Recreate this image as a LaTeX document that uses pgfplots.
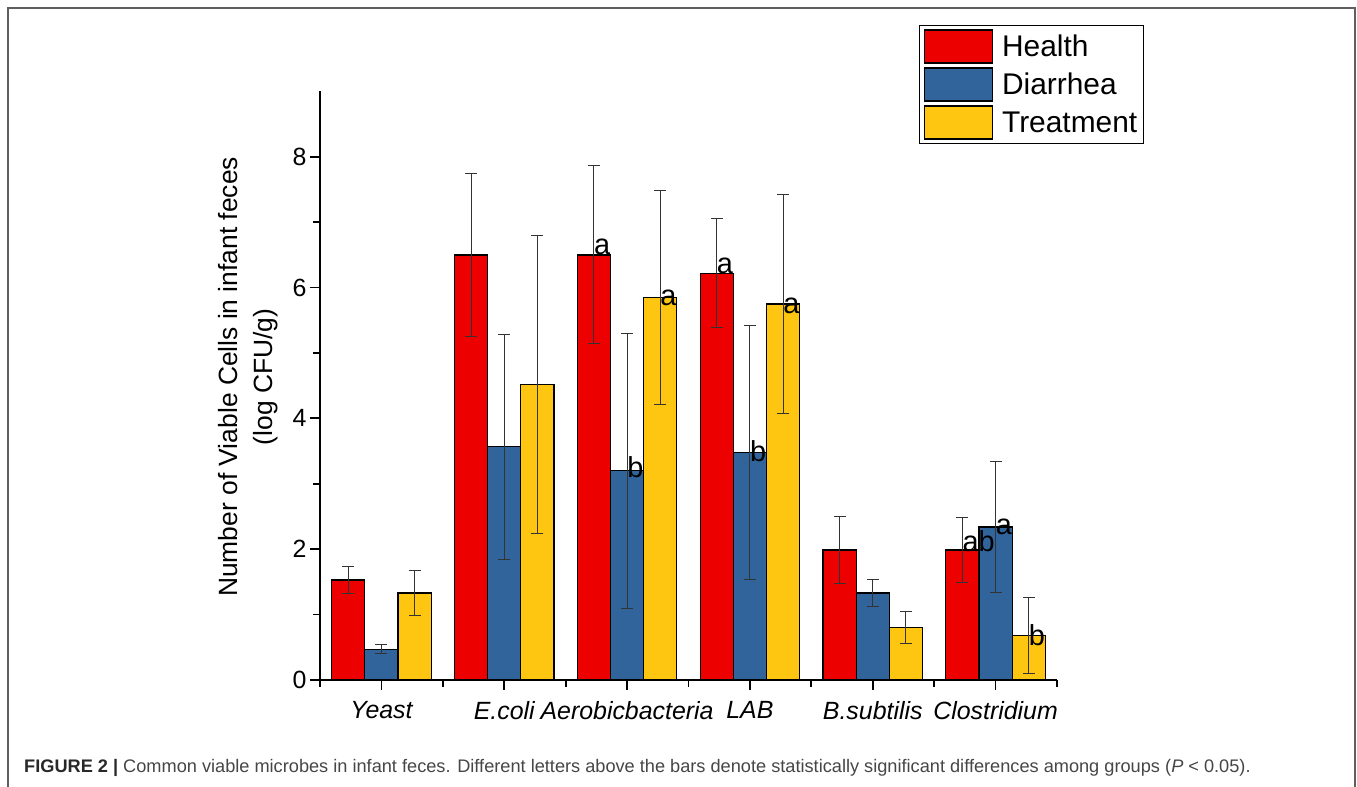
\documentclass[border=0pt]{standalone}
\usepackage{pgfplots}
\pgfplotsset{compat=1.18}
\usepackage{pgfplotstable}
\usepackage{fontspec}
\setmainfont{Liberation Sans}
\definecolor{cH}{RGB}{236,0,0}
\definecolor{cD}{RGB}{50,100,156}
\definecolor{cT}{RGB}{254,198,16}
\definecolor{framec}{RGB}{95,95,95}
\definecolor{captxt}{RGB}{70,70,70}
\definecolor{capbold}{RGB}{40,40,40}

\pgfplotstableread{
x y e
0 1.53 0.20
1 6.50 1.25
2 6.50 1.36
3 6.22 0.83
4 1.99 0.51
5 1.99 0.50
}\health
\pgfplotstableread{
x y e
0 0.47 0.07
1 3.57 1.72
2 3.20 2.10
3 3.48 1.94
4 1.33 0.20
5 2.34 1.00
}\diarrhea
\pgfplotstableread{
x y e
0 1.33 0.34
1 4.52 2.28
2 5.85 1.63
3 5.75 1.67
4 0.80 0.24
5 0.68 0.58
}\treatment

\pgfplotsset{
  mylegend/.style={legend image code/.code={%
    \path[draw=none, fill=none] (0bp,-19bp) rectangle (76bp,19bp);
    \draw[##1, draw=black, line width=1.2bp] (0bp,-16.5bp) rectangle (68bp,16.5bp);}},
  myerr/.style={error bars/.cd, y dir=both, y explicit,
    error bar style={line width=1bp, black!80},
    error mark=-,
    error mark options={rotate=90, line width=1bp, black!80, mark size=6bp}},
}

\begin{document}
\begin{tikzpicture}
\useasboundingbox (0bp,0bp) rectangle (1357bp,787bp);
\draw[framec, line width=1.5bp] (8bp,0bp) -- (8bp,779bp) -- (1355bp,779bp) -- (1355bp,0bp);
\begin{axis}[
  at={(320bp,107bp)}, anchor=south west,
  scale only axis, width=737bp, height=588.6bp,
  xmin=-0.5, xmax=5.5, ymin=0, ymax=9,
  clip=false,
  axis x line*=bottom, axis y line*=left,
  axis line style={line width=1.8bp, black},
  every tick/.style={black, line width=1.8bp},
  tick align=outside, major tick length=10bp, minor tick length=7bp,
  xtick={0,...,5},
  xticklabels={Yeast,E.coli,Aerobicbacteria,LAB,B.subtilis,Clostridium},
  minor xtick={-0.5,0.5,1.5,2.5,3.5,4.5,5.5},
  ytick={0,2,4,6,8}, minor ytick={1,3,5,7},
  /pgf/number format/assume math mode=true,
  xticklabel style={font=\itshape\fontsize{25}{30}\selectfont, yshift=-8bp},
  yticklabel style={font=\fontsize{25}{30}\selectfont},
  ylabel={Number of Viable Cells in infant feces\\(log CFU/g)},
  ylabel style={align=center, font=\fontsize{26.5}{35}\selectfont, at={(axis description cs:-0.098,0.515)}, anchor=center},
  ybar, bar width=0.27,
  legend style={at={(axis description cs:0.8128,1.1128)}, anchor=north west,
    draw=black, line width=1bp, font=\fontsize{30}{36}\selectfont,
    inner xsep=4bp, inner ysep=2bp, row sep=0bp,
    cells={anchor=west, inner ysep=0bp, inner xsep=1bp}},
]
\addplot[fill=cH, draw=black, line width=1.3bp, bar shift=-0.27, mylegend, myerr]
  table[x=x, y=y, y error=e]{\health};
\addlegendentry{Health}
\addplot[fill=cD, draw=black, line width=1.3bp, bar shift=0, mylegend, myerr]
  table[x=x, y=y, y error=e]{\diarrhea};
\addlegendentry{Diarrhea}
\addplot[fill=cT, draw=black, line width=1.3bp, bar shift=0.27, mylegend, myerr]
  table[x=x, y=y, y error=e]{\treatment};
\addlegendentry{Treatment}

\begin{scope}[every node/.style={anchor=base west, inner sep=0pt, font=\fontsize{29}{32}\selectfont}]
\node at (axis cs:1.73,6.50) {a};
\node at (axis cs:2.00,3.09) {b};
\node at (axis cs:2.27,5.72) {a};
\node at (axis cs:2.73,6.22) {a};
\node at (axis cs:3.00,3.34) {b};
\node at (axis cs:3.27,5.61) {a};
\node at (axis cs:4.73,1.97) {ab};
\node at (axis cs:5.00,2.22) {a};
\node at (axis cs:5.27,0.535) {b};
\end{scope}
\end{axis}
\node[anchor=base west, inner sep=0pt, font=\fontsize{18.25}{20}\selectfont, text=captxt] at (24bp,14.3bp)
  {\textcolor{capbold}{\textbf{FIGURE 2 |}} Common viable microbes in infant feces. Different letters above the bars denote statistically significant differences among groups (\textit{P} < 0.05).};
\end{tikzpicture}
\end{document}
